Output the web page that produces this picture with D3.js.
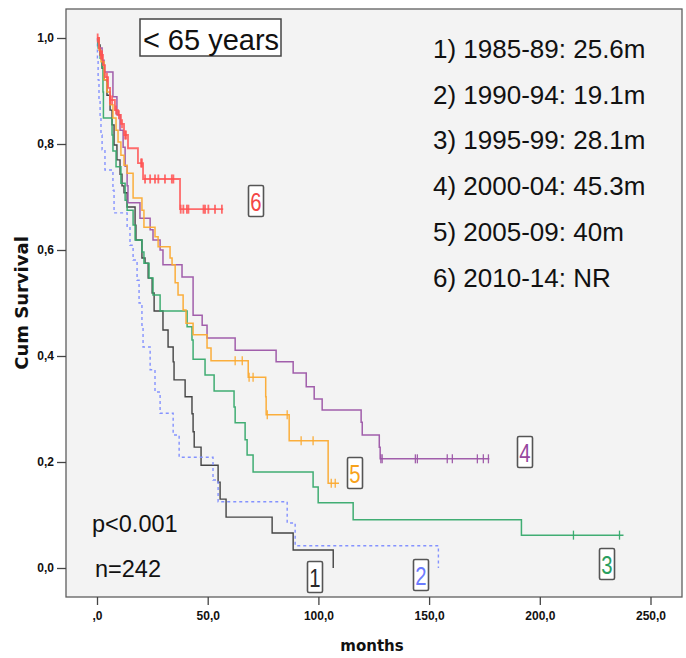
<!DOCTYPE html>
<html>
<head>
<meta charset="utf-8">
<script src="https://cdn.jsdelivr.net/npm/d3@7"></script>
<style>
  body { margin: 0; background: #fff; }
  text { font-family: "Liberation Sans", Arial, sans-serif; }
</style>
</head>
<body>
<div id="chart"></div>
<script>
// axis ticks
const xTicks = [0, 50, 100, 150, 200, 250];
const xTickLabels = [",0", "50,0", "100,0", "150,0", "200,0", "250,0"];
const yTicks = [0, 0.2, 0.4, 0.6, 0.8, 1.0];
const yTickLabels = ["0,0", "0,2", "0,4", "0,6", "0,8", "1,0"];

// 1) 1985-89
const times1 = [0.5, 1.4, 2.3, 3.2, 4.5, 5.9, 6.8, 7.7, 9.0, 10.4, 11.3, 12.2, 13.6, 17.2, 17.6, 20.3, 21.7, 23.1, 24.9, 25.8, 29.8, 32.1, 34.4, 34.8, 39.8, 42.9, 43.4, 43.9, 47.0, 54.7, 55.6, 58.3, 79.1, 88.6, 106.7];
const surv1 = [0.987, 0.968, 0.943, 0.921, 0.892, 0.864, 0.836, 0.798, 0.770, 0.743, 0.721, 0.708, 0.681, 0.647, 0.619, 0.585, 0.575, 0.547, 0.519, 0.485, 0.449, 0.417, 0.389, 0.355, 0.323, 0.291, 0.257, 0.228, 0.194, 0.162, 0.130, 0.096, 0.066, 0.034, 0];
const cens1 = [];
const end1 = 106.7;

// 2) 1990-94
const times2 = [0.2, 0.5, 0.9, 1.4, 1.8, 2.3, 3.6, 7.2, 7.7, 13.6, 14.9, 16.3, 18.1, 19.0, 20.3, 20.8, 24.0, 26.2, 28.5, 34.4, 37.1, 52.4, 54.7, 85.9, 89.5, 154.2];
const surv2 = [0.958, 0.921, 0.883, 0.851, 0.817, 0.789, 0.751, 0.713, 0.670, 0.642, 0.609, 0.581, 0.543, 0.500, 0.458, 0.417, 0.374, 0.332, 0.292, 0.251, 0.209, 0.166, 0.125, 0.085, 0.042, 0];
const cens2 = [];
const end2 = 154.2;

// 3) 1995-99
const times3 = [0.5, 1.4, 2.3, 2.7, 2.9, 6.8, 7.2, 8.6, 10.8, 12.7, 13.6, 16.3, 17.2, 20.3, 21.2, 23.5, 25.3, 28.5, 40.7, 42.9, 43.4, 48.8, 52.9, 61.9, 62.4, 66.9, 67.8, 70.5, 97.6, 99.9, 115.7, 191.7];
const surv3 = [0.981, 0.962, 0.945, 0.898, 0.849, 0.817, 0.787, 0.757, 0.726, 0.694, 0.675, 0.647, 0.619, 0.596, 0.575, 0.547, 0.515, 0.485, 0.455, 0.430, 0.394, 0.364, 0.334, 0.304, 0.274, 0.242, 0.213, 0.181, 0.153, 0.123, 0.091, 0.062];
const cens3 = [215.2, 236.0];
const end3 = 237.8;

// 4) 2000-04
const times4 = [0.9, 2.3, 3.2, 7.2, 9.0, 10.4, 11.8, 12.7, 13.6, 14.0, 19.4, 24.0, 25.3, 28.5, 29.8, 38.4, 43.4, 47.5, 49.7, 62.4, 80.9, 88.6, 94.5, 98.1, 101.7, 119.3, 119.8, 127.5, 127.9];
const surv4 = [0.981, 0.958, 0.936, 0.889, 0.855, 0.826, 0.794, 0.758, 0.721, 0.689, 0.660, 0.638, 0.619, 0.600, 0.572, 0.549, 0.477, 0.458, 0.434, 0.411, 0.389, 0.368, 0.342, 0.319, 0.298, 0.275, 0.251, 0.228, 0.206];
const cens4 = [128.2, 128.8, 143.8, 144.7, 158.2, 160.5, 171.8, 174.5, 176.8];
const end4 = 177.2;

// 5) 2005-09
const times5 = [0.9, 1.8, 3.2, 4.5, 5.9, 7.2, 8.6, 9.5, 10.8, 12.2, 13.6, 16.3, 20.3, 21.2, 26.2, 27.6, 33.0, 33.9, 35.3, 36.6, 38.9, 40.2, 43.4, 49.7, 51.5, 68.3, 76.2, 76.4, 86.8, 104.4];
const surv5 = [0.977, 0.955, 0.921, 0.898, 0.874, 0.849, 0.826, 0.804, 0.779, 0.760, 0.745, 0.698, 0.675, 0.643, 0.625, 0.606, 0.585, 0.572, 0.538, 0.515, 0.487, 0.462, 0.440, 0.415, 0.391, 0.360, 0.323, 0.289, 0.240, 0.160];
const cens5 = [62.4, 65.6, 68.7, 70.5, 76.9, 85.9, 92.2, 97.6, 105.8, 107.6];
const end5 = 109.3;

// 6) 2010-14
const times6 = [0.9, 1.4, 2.7, 3.6, 5.0, 5.9, 8.1, 9.5, 10.8, 12.2, 14.0, 18.5, 20.8, 37.5];
const surv6 = [0.981, 0.968, 0.949, 0.926, 0.906, 0.883, 0.864, 0.855, 0.838, 0.817, 0.792, 0.764, 0.734, 0.677];
const cens6 = [0.3, 1.8, 2.3, 4.5, 5.9, 6.8, 8.6, 9.9, 11.3, 12.7, 13.1, 19.9, 20.3, 21.7, 24.0, 26.2, 27.7, 30.7, 33.8, 34.5, 37.8, 39.0, 40.6, 41.3, 48.1, 48.8, 50.3, 53.3, 56.4];
const end6 = 57.0;

const legendLines = ["1) 1985-89: 25.6m", "2) 1990-94: 19.1m", "3) 1995-99: 28.1m",
                     "4) 2000-04: 45.3m", "5) 2005-09: 40m", "6) 2010-14: NR"];

let series = [
  { id: "1", times: times1, surv: surv1, cens: cens1, end: end1, color: "#3a3a3a", text: "#2a2a2a", dash: null, w: 1.4, lx: 315, ly: 577 },
  { id: "2", times: times2, surv: surv2, cens: cens2, end: end2, color: "#7d8cff", text: "#6b7bff", dash: "3,3", w: 1.4, lx: 421, ly: 575 },
  { id: "3", times: times3, surv: surv3, cens: cens3, end: end3, color: "#36a96c", text: "#2a9f60", dash: null, w: 1.5, lx: 607, ly: 564 },
  { id: "4", times: times4, surv: surv4, cens: cens4, end: end4, color: "#9c55a6", text: "#96479e", dash: null, w: 1.5, lx: 525, ly: 452 },
  { id: "5", times: times5, surv: surv5, cens: cens5, end: end5, color: "#fbaa32", text: "#f7a21b", dash: null, w: 1.5, lx: 355, ly: 473 },
  { id: "6", times: times6, surv: surv6, cens: cens6, end: end6, color: "#ff5252", text: "#f44646", dash: null, w: 1.8, lx: 256, ly: 201 }
];

let width = 686;
let height = 658;
let frame = { left: 66, top: 9, right: 682, bottom: 597 };

let xScale = d3.scaleLinear().domain([0, 250]).range([97, 650.5]);
let yScale = d3.scaleLinear().domain([0, 1]).range([568, 38]);

let svg = d3.select("#chart")
  .append("svg")
  .attr("width", width)
  .attr("height", height);

/* plot frame */
svg.append("rect")
  .attr("x", frame.left)
  .attr("y", frame.top)
  .attr("width", frame.right - frame.left)
  .attr("height", frame.bottom - frame.top)
  .attr("fill", "#f3f3f3")
  .attr("stroke", "#5e5e5e")
  .attr("stroke-width", 1.3);

/* axes */
let xAxis = d3.axisBottom(xScale)
  .tickValues(xTicks)
  .tickFormat((d, i) => xTickLabels[i])
  .tickSize(8)
  .tickPadding(6);

let yAxis = d3.axisLeft(yScale)
  .tickValues(yTicks)
  .tickFormat((d, i) => yTickLabels[i])
  .tickSize(9)
  .tickPadding(3);

let gx = svg.append("g")
  .attr("transform", `translate(0, ${frame.bottom})`)
  .call(xAxis);

let gy = svg.append("g")
  .attr("transform", `translate(${frame.left}, 0)`)
  .call(yAxis);

[gx, gy].forEach(g => {
  g.select(".domain").remove();
  g.selectAll(".tick line").attr("stroke", "#444").attr("stroke-width", 1.3);
  g.selectAll(".tick text")
    .attr("fill", "#111")
    .style("font-family", "'Liberation Sans', Arial, sans-serif")
    .style("font-weight", "bold")
    .style("font-size", "12px");
});

svg.append("text")
  .attr("x", 372)
  .attr("y", 651)
  .attr("text-anchor", "middle")
  .style("font-family", "'DejaVu Sans', sans-serif")
  .style("font-weight", "bold")
  .style("font-size", "15px")
  .attr("fill", "#111")
  .text("months");

svg.append("text")
  .attr("transform", "translate(28, 303) rotate(-90)")
  .attr("text-anchor", "middle")
  .style("font-family", "'DejaVu Sans', sans-serif")
  .style("font-weight", "bold")
  .style("font-size", "18px")
  .attr("fill", "#111")
  .text("Cum Survival");

/* survival curves */
let line = d3.line()
  .x(d => xScale(d[0]))
  .y(d => yScale(d[1]))
  .curve(d3.curveStepAfter);

function survAt(s, t) {
  let i = d3.bisectRight(s.times, t);
  return i === 0 ? 1 : s.surv[i - 1];
}

let curves = svg.append("g").attr("class", "curves");

series.forEach(s => {
  let pts = [[0, 1]];
  s.times.forEach((t, i) => pts.push([t, s.surv[i]]));
  pts.push([s.end, s.surv[s.surv.length - 1]]);

  let g = curves.append("g")
    .attr("stroke", s.color)
    .attr("fill", "none")
    .attr("stroke-opacity", s.id === "6" ? 0.85 : 0.95);

  g.append("path")
    .attr("d", line(pts))
    .attr("stroke-width", s.w)
    .attr("stroke-dasharray", s.dash);

  // censored cases as small vertical ticks
  g.selectAll("line.cens")
    .data(s.cens)
    .enter()
    .append("line")
    .attr("class", "cens")
    .attr("x1", d => xScale(d))
    .attr("x2", d => xScale(d))
    .attr("y1", d => yScale(survAt(s, d)) - 4.5)
    .attr("y2", d => yScale(survAt(s, d)) + 4.5)
    .attr("stroke-width", s.id === "6" ? 1.8 : 1.3);
});

/* boxed curve labels */
series.forEach(s => {
  svg.append("rect")
    .attr("x", s.lx - 7.5)
    .attr("y", s.ly - 15.5)
    .attr("width", 15)
    .attr("height", 31)
    .attr("rx", 1.5)
    .attr("fill", "#fff")
    .attr("stroke", "#555")
    .attr("stroke-width", 1.6);

  svg.append("text")
    .attr("transform", `translate(${s.lx}, ${s.ly + 9.5}) scale(0.78, 1)`)
    .attr("text-anchor", "middle")
    .style("font-size", "26px")
    .attr("fill", s.text)
    .text(s.id);
});

/* title box */
svg.append("rect")
  .attr("x", 140)
  .attr("y", 19)
  .attr("width", 141)
  .attr("height", 37)
  .attr("fill", "#fff")
  .attr("stroke", "#444")
  .attr("stroke-width", 1.5);

svg.append("text")
  .attr("x", 211)
  .attr("y", 50)
  .attr("text-anchor", "middle")
  .style("font-size", "29px")
  .attr("fill", "#111")
  .text("< 65 years");

/* medians legend */
svg.append("g")
  .selectAll("text")
  .data(legendLines)
  .enter()
  .append("text")
  .attr("x", 433)
  .attr("y", (d, i) => 58 + i * 45.7)
  .style("font-size", "26px")
  .attr("fill", "#111")
  .text(d => d);

svg.append("text")
  .attr("x", 92)
  .attr("y", 532)
  .style("font-size", "23.5px")
  .attr("fill", "#111")
  .text("p<0.001");

svg.append("text")
  .attr("x", 95)
  .attr("y", 577)
  .style("font-size", "23.5px")
  .attr("fill", "#111")
  .text("n=242");
</script>
</body>
</html>
